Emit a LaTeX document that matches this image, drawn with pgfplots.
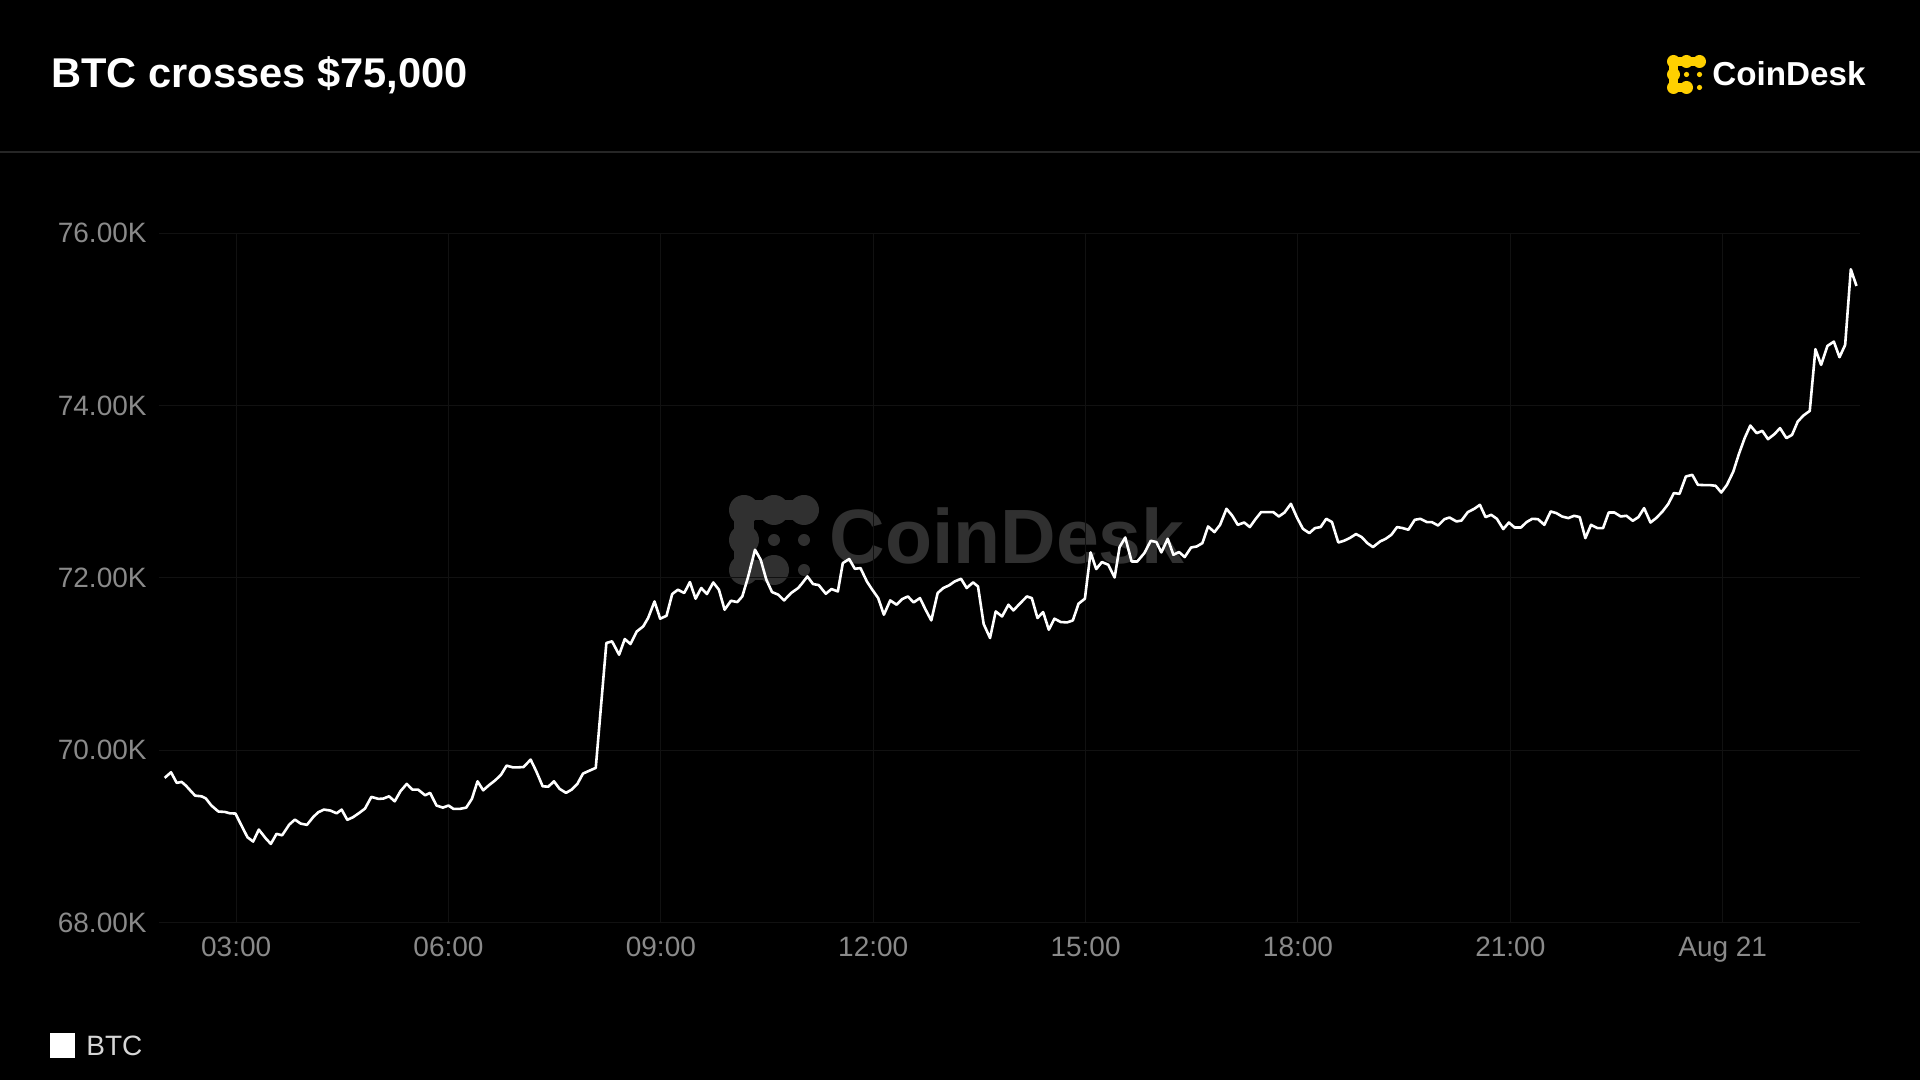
\documentclass[border=0pt]{standalone}
\usepackage{fontspec}
\setmainfont{Liberation Sans}
\usepackage{pgfplots}
\pgfplotsset{compat=1.18}
\usepackage{pgfplotstable}

\definecolor{gridc}{HTML}{111111}
\definecolor{sepc}{HTML}{262626}
\definecolor{tickc}{HTML}{8A8A8A}
\definecolor{legc}{HTML}{D6D6D6}
\definecolor{wmc}{HTML}{303030}
\definecolor{cdyellow}{HTML}{FFD000}

% BTC price, hours since Aug 20 00:00, thousands of USD
\pgfplotstableread{
h v
1.99 69.678
2.08 69.743
2.16 69.620
2.23 69.631
2.29 69.588
2.35 69.534
2.42 69.472
2.51 69.464
2.57 69.441
2.65 69.357
2.75 69.287
2.84 69.283
2.91 69.267
2.99 69.264
3.08 69.117
3.16 68.989
3.24 68.939
3.32 69.078
3.42 68.974
3.49 68.912
3.57 69.028
3.65 69.012
3.75 69.136
3.83 69.194
3.91 69.148
4.00 69.133
4.09 69.225
4.16 69.279
4.24 69.310
4.33 69.299
4.42 69.267
4.49 69.310
4.57 69.191
4.65 69.221
4.74 69.272
4.82 69.322
4.91 69.457
4.96 69.446
5.01 69.434
5.08 69.438
5.16 69.464
5.24 69.406
5.32 69.522
5.41 69.608
5.49 69.542
5.57 69.542
5.67 69.476
5.74 69.504
5.83 69.357
5.92 69.333
6.00 69.357
6.07 69.318
6.16 69.318
6.25 69.333
6.33 69.434
6.41 69.638
6.49 69.534
6.57 69.592
6.66 69.650
6.74 69.712
6.82 69.820
6.91 69.800
6.98 69.800
7.06 69.804
7.16 69.890
7.24 69.754
7.33 69.580
7.41 69.576
7.49 69.638
7.57 69.550
7.66 69.504
7.74 69.542
7.82 69.608
7.90 69.728
7.97 69.754
8.08 69.794
8.23 71.243
8.31 71.262
8.41 71.107
8.49 71.289
8.57 71.231
8.66 71.377
8.75 71.435
8.82 71.533
8.91 71.725
8.99 71.525
9.08 71.559
9.16 71.811
9.24 71.861
9.33 71.823
9.41 71.950
9.49 71.757
9.57 71.881
9.65 71.811
9.74 71.945
9.82 71.861
9.90 71.629
9.99 71.733
10.08 71.718
10.15 71.783
10.23 72.003
10.33 72.325
10.41 72.209
10.49 71.977
10.57 71.834
10.66 71.803
10.74 71.737
10.84 71.823
10.94 71.881
10.99 71.930
11.07 72.015
11.15 71.927
11.23 71.915
11.33 71.814
11.41 71.869
11.50 71.841
11.57 72.170
11.66 72.217
11.74 72.104
11.82 72.112
11.91 71.957
11.98 71.869
12.07 71.764
12.15 71.571
12.24 71.737
12.33 71.687
12.41 71.753
12.49 71.783
12.57 71.714
12.66 71.764
12.74 71.629
12.82 71.505
12.91 71.823
12.99 71.881
13.07 71.911
13.15 71.957
13.24 71.988
13.32 71.881
13.41 71.946
13.48 71.899
13.56 71.463
13.65 71.301
13.73 71.609
13.82 71.551
13.91 71.687
13.98 71.621
14.07 71.699
14.17 71.783
14.24 71.764
14.32 71.533
14.40 71.602
14.48 71.397
14.56 71.525
14.65 71.486
14.74 71.482
14.82 71.505
14.90 71.699
14.99 71.757
15.07 72.294
15.15 72.101
15.23 72.182
15.32 72.151
15.41 72.003
15.48 72.356
15.56 72.467
15.65 72.189
15.73 72.189
15.83 72.286
15.92 72.429
16.00 72.414
16.07 72.294
16.16 72.452
16.24 72.267
16.32 72.298
16.40 72.240
16.49 72.351
16.57 72.363
16.65 72.402
16.73 72.595
16.82 72.530
16.90 72.614
16.99 72.800
17.07 72.722
17.15 72.614
17.24 72.641
17.32 72.588
17.40 72.680
17.48 72.762
17.57 72.762
17.65 72.762
17.73 72.711
17.81 72.757
17.90 72.858
17.99 72.692
18.07 72.568
18.16 72.518
18.24 72.576
18.32 72.588
18.40 72.684
18.48 72.646
18.57 72.409
18.65 72.429
18.73 72.460
18.82 72.507
18.90 72.472
18.98 72.402
19.06 72.356
19.16 72.421
19.24 72.452
19.32 72.499
19.40 72.588
19.48 72.576
19.56 72.557
19.65 72.672
19.73 72.684
19.82 72.646
19.89 72.646
19.98 72.606
20.07 72.680
20.14 72.699
20.24 72.653
20.31 72.664
20.40 72.762
20.49 72.800
20.57 72.846
20.65 72.704
20.73 72.730
20.81 72.684
20.90 72.565
20.98 72.641
21.06 72.583
21.15 72.583
21.23 72.646
21.31 72.684
21.39 72.680
21.48 72.614
21.57 72.769
21.65 72.750
21.73 72.711
21.82 72.692
21.90 72.719
21.98 72.704
22.06 72.460
22.14 72.614
22.23 72.576
22.31 72.576
22.39 72.757
22.47 72.757
22.56 72.711
22.64 72.719
22.73 72.661
22.81 72.704
22.89 72.808
22.98 72.641
23.06 72.692
23.15 72.769
23.23 72.855
23.31 72.982
23.39 72.974
23.48 73.175
23.57 73.194
23.65 73.078
23.74 73.075
23.82 73.075
23.90 73.067
23.98 72.989
24.06 73.078
24.15 73.232
24.23 73.438
24.31 73.620
24.39 73.766
24.48 73.678
24.56 73.704
24.64 73.608
24.73 73.666
24.81 73.736
24.90 73.620
24.98 73.658
25.06 73.812
25.14 73.882
25.23 73.936
25.31 74.652
25.39 74.470
25.48 74.690
25.57 74.740
25.65 74.559
25.73 74.701
25.81 75.579
25.89 75.386
}\btcdata

% CoinDesk mark: #1,#2 centre of top-left blob, #3 cell size, #4 colour
\newcommand{\cdmark}[4]{%
  \begin{scope}[shift={(#1,#2)}, x=#3, y=#3]
    \fill[#4] (0,0) circle (0.5) (1,0) circle (0.5) (2,0) circle (0.5)
      (0,-1) circle (0.5) (0,-2) circle (0.5) (1,-2) circle (0.5);
    \fill[#4] (0,0.32) rectangle (2,-0.32);
    \fill[#4] (-0.32,0) rectangle (0.32,-2);
    \fill[#4] (0,-1.68) rectangle (1,-2.32);
    \fill[#4] (1,-1) circle (0.2) (2,-1) circle (0.2) (2,-2) circle (0.2);
  \end{scope}}

\begin{document}
\begin{tikzpicture}[x=1pt,y=1pt]
\fill[black] (0,0) rectangle (960,540);

% watermark
\cdmark{372}{285}{15pt}{wmc}
\node[anchor=base west, inner sep=0pt, text=wmc,
  font=\bfseries\fontsize{38.5}{42}\selectfont] at (414.5,258.4) {CoinDesk};

% header
\node[anchor=base west, inner sep=0pt, text=white,
  font=\bfseries\fontsize{20.8}{24}\selectfont] at (25.5,496.4) {BTC crosses \$75,000};
\cdmark{836.75}{509.25}{6.5pt}{cdyellow}
\node[anchor=base west, inner sep=0pt, text=white,
  font=\bfseries\fontsize{16.6}{20}\selectfont] at (856,497) {CoinDesk};
\draw[sepc, line width=1pt] (0,464) -- (960,464);

\begin{axis}[
  at={(79.5pt,78.75pt)}, anchor=south west,
  scale only axis, width=850.5pt, height=344.75pt,
  xmin=1.91, xmax=25.94, ymin=68, ymax=76,
  axis line style={draw=none},
  major tick length=0pt,
  xtick={3,6,...,24},
  xticklabels={03:00,06:00,09:00,12:00,15:00,18:00,21:00,Aug 21},
  ytick={68,70,...,76},
  yticklabels={68.00K,70.00K,72.00K,74.00K,76.00K},
  grid=major,
  major grid style={draw=gridc, line width=0.5pt},
  tick label style={text=tickc, font=\fontsize{14}{16}\selectfont, inner sep=0pt},
  xticklabel style={yshift=-7pt},
  yticklabel style={xshift=-6pt},
]
\addplot[white, line width=1.3pt, line join=round, mark=none] table[x=h, y=v] {\btcdata};
\end{axis}

% legend
\fill[white] (25,11) rectangle (37.5,23.5);
\node[anchor=base west, inner sep=0pt, text=legc,
  font=\fontsize{14}{16}\selectfont] at (43,12.3) {BTC};

\pgfresetboundingbox
\useasboundingbox (0,0) rectangle (960,540);
\end{tikzpicture}
\end{document}
